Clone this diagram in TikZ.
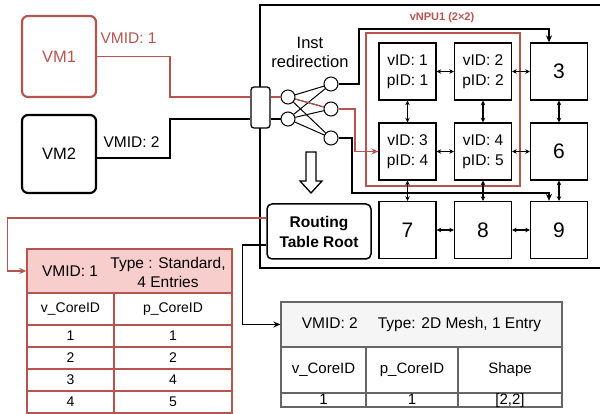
\documentclass[tikz,border=0pt]{standalone}
\usepackage{fontspec}
\setmainfont{Liberation Sans}
\usetikzlibrary{arrows.meta,calc,positioning}
\definecolor{vmred}{RGB}{184,84,80}
\definecolor{vmpink}{RGB}{248,206,204}
\definecolor{tabline}{RGB}{102,102,102}
\definecolor{tabfill}{RGB}{245,245,245}
\tikzset{>=Stealth}
\newcommand{\fsize}[2]{\fontsize{#1}{#2}\selectfont}

\begin{document}
\begin{tikzpicture}[x=1pt,y=-1pt,font=\fsize{15.5}{19},
  vmbox/.style={draw,rounded corners=6pt,line width=2.2pt,minimum width=74pt,font=\fsize{16.5}{20}},
  core/.style={draw,fill=white,line width=1.3pt,minimum width=57pt,minimum height=57pt,inner sep=0pt,align=center,font=\fsize{15.5}{20}},
  bignum/.style={core,font=\fsize{21}{24}},
  dot/.style={circle,draw,fill=white,line width=1pt,minimum size=14pt,inner sep=0pt},
  wire/.style={line width=1.8pt},
  link/.style={{Stealth[length=4.5pt,width=4.5pt]}-{Stealth[length=4.5pt,width=4.5pt]},line width=1.1pt},
  tip/.style={-{Stealth[length=7pt,width=6pt]}},
  cella/.style={draw=vmred,line width=1.4pt,inner sep=0pt,font=\fsize{14}{16}},
  cellb/.style={draw=tabline,line width=1.3pt,inner sep=0pt,font=\fsize{15}{17}}]
  \useasboundingbox (0,0) rectangle (600,414);

  % Host chip outline
  \draw[line width=2.5pt] (604,5) -| (260,268) -- (604,268);

  % Virtual machines
  \node[vmbox,draw=vmred,text=vmred,minimum height=81pt] (vmone) at (59,56.5) {VM1};
  \node[vmbox,minimum height=78pt] (vmtwo) at (59,154) {VM2};
  \node[vmred] (vmidone) at (128.5,38.5) {VMID: 1};
  \node (vmidtwo) at (131.5,142.5) {VMID: 2};

  % Instruction redirection crossbar
  \node[align=center,font=\fsize{16.5}{19}] (redir) at (310,52) {Inst\\redirection};
  \node[draw,fill=white,rounded corners=3pt,line width=1.3pt,minimum width=19pt,
    minimum height=41pt,inner sep=0pt] (mux) at (260.5,107.5) {};
  \node[dot] (cl1) at (288,97) {};
  \node[dot] (cl2) at (288,119) {};
  \node[dot] (cr1) at (331,84) {};
  \node[dot] (cr2) at (331,109) {};
  \node[dot] (cr3) at (331,138) {};

  \draw[vmred,wire] (vmone.east) -- ++(73,0) |- (mux.west |- cl1);
  \draw[wire] ([yshift=-4pt]vmtwo.east) -- ++(73,0) |- (mux.west |- cl2);
  \draw[vmred,wire] (mux.east |- cl1) -- (cl1);
  \draw[wire] (mux.east |- cl2) -- (cl2);
  \foreach \l in {cl1,cl2}
    \foreach \r in {cr1,cr2,cr3}
      \draw[line width=1pt] (\l) -- (\r);
  \draw[vmred,line width=1pt] (cl1) -- (cr2);

  % Core grid
  \node[core] (c1) at (407.5,71.5) {vID: 1\\pID: 1};
  \node[core] (c2) at (483,71.5) {vID: 2\\pID: 2};
  \node[bignum] (c3) at (559,71.5) {3};
  \node[core] (c4) at (407.5,151.5) {vID: 3\\pID: 4};
  \node[core] (c5) at (483,151.5) {vID: 4\\pID: 5};
  \node[bignum] (c6) at (559,151.5) {6};
  \node[bignum] (c7) at (407.5,230) {7};
  \node[bignum] (c8) at (483,230) {8};
  \node[bignum] (c9) at (559,230) {9};

  \node[draw=vmred,line width=1.8pt,minimum width=154pt,minimum height=153pt]
    (vnpu) at (443,109.5) {};
  \node[vmred,font=\bfseries\fsize{11}{13}] (vnpulabel) at (442,18) {vNPU1 (2×2)};

  \draw[link] (c1) -- (c2);
  \draw[link] (c2) -- (c3);
  \draw[link] (c4) -- (c5);
  \draw[link] (c5) -- (c6);
  \draw[link] (c7) -- (c8);
  \draw[link] (c8) -- (c9);
  \draw[link] (c1) -- (c4);
  \draw[link] (c2) -- (c5);
  \draw[link] (c3) -- (c6);
  \draw[link] (c4) -- (c7);
  \draw[link] (c5) -- (c8);
  \draw[link] (c6) -- (c9);

  % Crossbar outputs
  \draw[line width=1.5pt,tip] (cr1) -- ++(28,0) -- ++(0,-55) -| ([xshift=-10pt]c3.north);
  \draw[vmred,wire,tip] (cr2) -- ++(24,0) |- (c4.west);
  \draw[line width=1.5pt,tip] (cr3) -- ++(21,0) -- ++(0,55) -| ([xshift=-10pt]c9.north);

  % Lookup
  \draw[line width=1.3pt,fill=white] (306,152) -- (316,152) -- (316,181) -- (322,181)
    -- (311,193) -- (300,181) -- (306,181) -- cycle;
  \node[draw,rounded corners=5pt,line width=1.5pt,minimum width=104pt,minimum height=55pt,
    align=center,font=\bfseries\fsize{15.5}{20}] (rtr) at (319,231.5) {Routing\\Table Root};

  % Table for VMID 1
  \node[cella,fill=vmpink,minimum width=205pt,minimum height=44pt] (hdra) at (129.5,271) {};
  \node (hdravmid) at (70,271) {VMID: 1};
  \node[align=center] (hdratype) at (168,272.5) {Type : Standard,\\4 Entries};
  \node[cella,minimum width=87pt,minimum height=32pt] (vcola) at (70.5,309) {v\_CoreID};
  \node[cella,minimum width=118pt,minimum height=32pt] (pcola) at (173,309) {p\_CoreID};
  \foreach \v/\p [count=\i] in {1/1,2/2,3/4,4/5} {
    \node[cella,minimum width=87pt,minimum height=22pt] (va\i) at (70.5,{314+22*\i}) {\v};
    \node[cella,minimum width=118pt,minimum height=22pt] (pa\i) at (173,{314+22*\i}) {\p};
  }

  % Table for VMID 2
  \node[cellb,fill=tabfill,minimum width=281pt,minimum height=45pt,font=\fsize{15.5}{18}]
    (hdrb) at (421.5,324.5) {VMID: 2\hspace{20pt}Type: 2D Mesh, 1 Entry};
  \node[cellb,minimum width=85pt,minimum height=46pt] (vcolb) at (323.5,370) {v\_CoreID};
  \node[cellb,minimum width=92pt,minimum height=46pt] (pcolb) at (412,370) {p\_CoreID};
  \node[cellb,minimum width=104pt,minimum height=46pt] (shpb) at (510,370) {Shape};
  \node[cellb,minimum width=85pt,minimum height=14pt,text height=10pt,text depth=2pt] (vb1) at (323.5,400) {1};
  \node[cellb,minimum width=92pt,minimum height=14pt,text height=10pt,text depth=2pt] (pb1) at (412,400) {1};
  \node[cellb,minimum width=104pt,minimum height=14pt,text height=10pt,text depth=2pt] (sb1) at (510,400) {[2,2]};

  % Root to tables
  \draw[vmred,line width=1.3pt,tip] ([yshift=13.5pt]rtr.west) -- ++(-259,0) |- (hdra.west);
  \draw[line width=1.3pt,tip] ([yshift=-13.5pt]rtr.west) -- ++(-24,0) |- (hdrb.west);
\end{tikzpicture}
\end{document}
